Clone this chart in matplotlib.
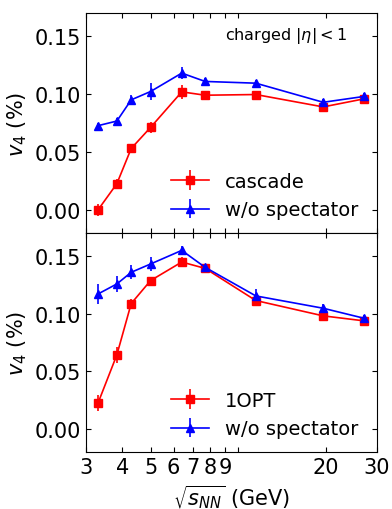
import matplotlib.pyplot as plt
from matplotlib.ticker import FixedLocator, NullLocator

# collision energies (GeV)
snn = [3.3, 3.83, 4.29, 5.0, 6.4, 7.7, 11.5, 19.6, 27.0]

# top panel: cascade vs w/o spectator
cascade = [0.000, 0.0226, 0.053, 0.0712, 0.1019, 0.099, 0.0996, 0.0889, 0.0958]
cascade_err = [0.005, 0.004, 0.003, 0.005, 0.006, 0.003, 0.003, 0.003, 0.003]
nospec_top = [0.0727, 0.0767, 0.095, 0.1022, 0.1181, 0.1109, 0.1094, 0.0929, 0.0979]
nospec_top_err = [0.002, 0.003, 0.004, 0.007, 0.005, 0.003, 0.003, 0.003, 0.003]

# bottom panel: 1OPT vs w/o spectator
opt = [0.0225, 0.0643, 0.1088, 0.1287, 0.1448, 0.1393, 0.1114, 0.0981, 0.0938]
opt_err = [0.007, 0.007, 0.004, 0.003, 0.004, 0.003, 0.005, 0.003, 0.003]
nospec_bot = [0.1171, 0.1258, 0.1359, 0.1431, 0.1549, 0.1402, 0.1154, 0.1047, 0.0961]
nospec_bot_err = [0.009, 0.007, 0.006, 0.006, 0.004, 0.003, 0.006, 0.004, 0.003]

xticks = [3, 4, 5, 6, 7, 8, 9, 10, 20, 30]
xlabels = ['3', '4', '5', '6', '7', '8', '9', '', '20', '30']

fig = plt.figure(figsize=(3.92, 5.1), dpi=100)
ax1 = fig.add_axes([0.2194, 0.5412, 0.7423, 0.4313])
ax2 = fig.add_axes([0.2194, 0.1118, 0.7423, 0.4294], sharex=ax1)

panels = [
    (ax1, cascade, cascade_err, 'cascade', nospec_top, nospec_top_err),
    (ax2, opt, opt_err, '1OPT', nospec_bot, nospec_bot_err),
]
for ax, r, re, rlab, b, be in panels:
    ax.errorbar(snn, r, yerr=re, color='red', marker='s', ms=6, lw=1.2,
                elinewidth=1.2, capsize=0, label=rlab)
    ax.errorbar(snn, b, yerr=be, color='blue', marker='^', ms=6, lw=1.2,
                elinewidth=1.2, capsize=0, label='w/o spectator')
    ax.set_xscale('log')
    ax.set_xlim(3, 30)
    ax.set_ylim(-0.02, 0.17)
    ax.set_yticks([0.0, 0.05, 0.10, 0.15])
    ax.set_ylabel('$v_4$ (%)', fontsize=15)
    ax.tick_params(direction='in', top=True, right=True, labelsize=15)
    ax.legend(loc='lower right', bbox_to_anchor=(0.983, 0.0), frameon=False,
              fontsize=14, handlelength=2.0, borderaxespad=0.3,
              labelspacing=0.5)

ax2.xaxis.set_major_locator(FixedLocator(xticks))
ax2.xaxis.set_minor_locator(NullLocator())
ax2.set_xticklabels(xlabels)
ax1.tick_params(labelbottom=False)
ax2.set_xlabel(r'$\sqrt{s_{NN}}$ (GeV)', fontsize=15)

ax1.text(0.897, 0.9, r'charged $|\eta|<1$', transform=ax1.transAxes,
         ha='right', va='center', fontsize=11.5)

fig.savefig('out.png', dpi=100)
